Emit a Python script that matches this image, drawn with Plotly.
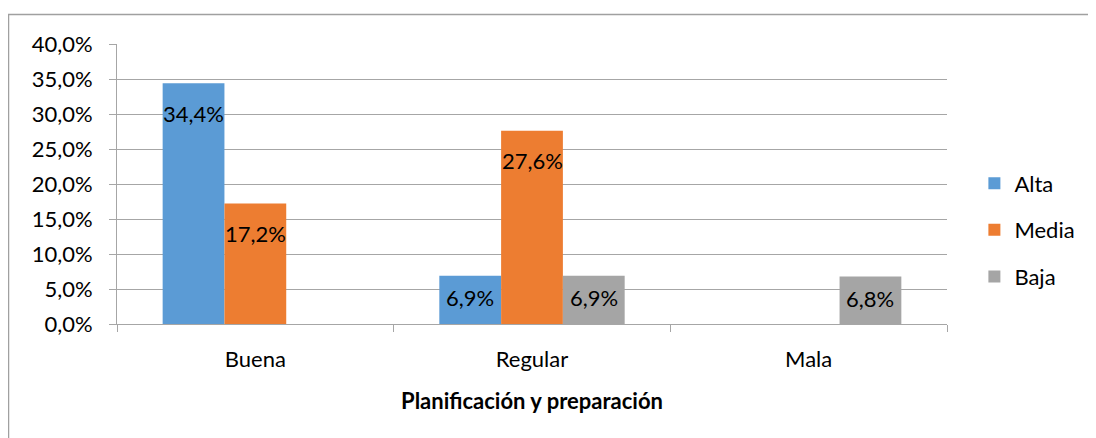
import plotly.graph_objects as go

categories = ["Buena", "Regular", "Mala"]
series_names = ["Alta", "Media", "Baja"]
alta = [0.344, 0.069, 0.0]
media = [0.172, 0.276, 0.0]
baja = [0.0, 0.069, 0.068]
colors = ["#5B9BD5", "#ED7D31", "#A5A5A5"]

y_ticks = [0, 0.05, 0.10, 0.15, 0.20, 0.25, 0.30, 0.35, 0.40]
x_title = "Planificación y preparación"

FONT = "Lato"
FS = 22
OFF = 8  # page body margin
W, H = 1096 - OFF, 438 - OFF
ML, MT = 117 - OFF, 44 - OFF
plot_w, plot_h = 830, 280
MR = W - ML - plot_w
MB = H - MT - plot_h
ymax = 0.40
bargap = 0.33

fig = go.Figure()
all_series = [alta, media, baja]
for name, vals, col in zip(series_names, all_series, colors):
    fig.add_trace(go.Bar(
        x=categories, y=vals, name=name, legendgroup=name,
        marker=dict(color=col, line=dict(width=0)),
    ))

annotations = []
bar_w = (1 - bargap) / 3
for j, vals in enumerate(all_series):
    for i, v in enumerate(vals):
        if v <= 0:
            continue
        px_h = v / ymax * plot_h
        shift = -min(30, px_h / 2 - 2)
        annotations.append(dict(
            x=i + (j - 1) * bar_w, y=v, xref="x", yref="y",
            text=f"{v*100:.1f}%".replace(".", ","),
            showarrow=False, yanchor="middle", yshift=shift,
            font=dict(family=FONT, size=FS, color="black"),
        ))

fig.update_layout(
    width=W, height=H,
    margin=dict(l=ML, r=MR, t=MT, b=MB),
    paper_bgcolor="white", plot_bgcolor="white",
    barmode="group", bargap=bargap, bargroupgap=0,
    separators=",.",
    showlegend=True,
    legend=dict(
        x=1.033, y=0.336, xanchor="left", yanchor="middle",
        font=dict(family=FONT, size=FS, color="black"),
        tracegroupgap=15, itemsizing="constant", itemwidth=30,
        bgcolor="rgba(0,0,0,0)",
    ),
    annotations=annotations,
    shapes=[dict(
        type="rect", xref="paper", yref="paper",
        x0=(8.5 - OFF - ML) / plot_w, x1=1.3,
        y0=-0.5, y1=(H - (14.5 - OFF) - MB) / plot_h,
        line=dict(color="#a0a0a0", width=1.5), fillcolor="rgba(0,0,0,0)",
        layer="below",
    )],
)

fig.update_xaxes(
    type="category",
    showline=True, linecolor="#a6a6a6", linewidth=1,
    ticks="outside", ticklen=7, tickcolor="#a6a6a6", tickson="boundaries",
    ticklabelstandoff=16,
    tickfont=dict(family=FONT, size=FS, color="black"),
    title=dict(text=f"<b>{x_title}</b>", font=dict(family=FONT, size=FS, color="black"), standoff=22),
    showgrid=False,
)
fig.update_yaxes(
    range=[0, ymax], tickvals=y_ticks, tickformat=".1%",
    showline=True, linecolor="#a6a6a6", linewidth=1,
    ticks="outside", ticklen=7, tickcolor="#a6a6a6",
    ticklabelstandoff=12,
    showgrid=True, gridcolor="#a6a6a6", gridwidth=1,
    tickfont=dict(family=FONT, size=FS, color="black"),
    zeroline=False,
)

fig.write_html("out.html")
